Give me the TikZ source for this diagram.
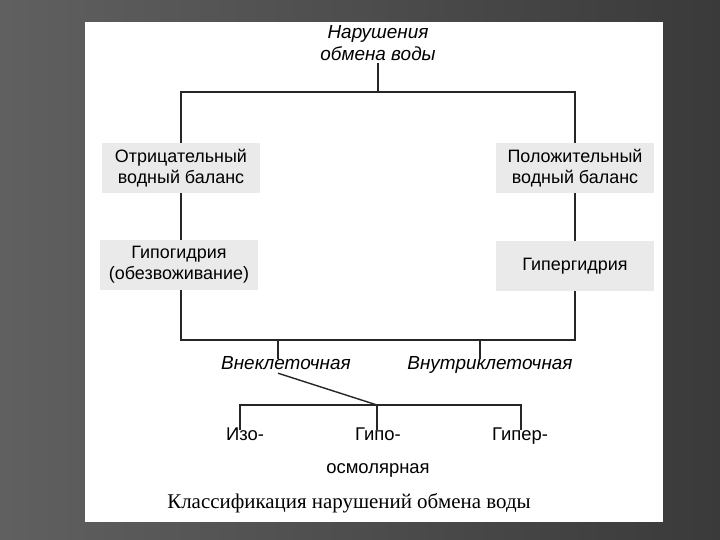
\documentclass[tikz,border=0pt]{standalone}
\usepackage{fontspec}
\setmainfont{Liberation Serif}
\setsansfont{Liberation Sans}
\usepackage{tikz}
\usetikzlibrary{positioning,calc}
\definecolor{slidedark}{RGB}{58,58,58}
\definecolor{slidelight}{RGB}{96,96,96}
\definecolor{boxgray}{RGB}{234,234,234}
\tikzset{
  linkline/.style={line width=1.4bp, black!85},
  balbox/.style={rectangle, fill=boxgray, minimum width=158bp, minimum height=50bp,
                 inner sep=0pt, align=center, font=\sffamily\fontsize{18}{21}\selectfont},
  rootlabel/.style={font=\sffamily\itshape\fontsize{19}{22}\selectfont, align=center,
                    inner sep=2bp},
  kindlabel/.style={font=\sffamily\itshape\fontsize{19}{22}\selectfont,
                    text height=0.72em, text depth=0.22em},
  osmlabel/.style={font=\sffamily\fontsize{18.5}{20}\selectfont,
                   text height=0.72em, text depth=0.22em},
  captlabel/.style={font=\rmfamily\fontsize{21}{24}\selectfont},
}

\begin{document}
\begin{tikzpicture}[x=1bp,y=-1bp]
  \useasboundingbox (0,0) rectangle (720,540);
  % Slide and sheet
  \shade[left color=slidelight, right color=slidedark] (0,0) rectangle (720,540);
  \fill[white] (85,22) rectangle (663,522);
  % Root
  \node[rootlabel] (root) at (378,43) {Нарушения\\обмена воды};
  \coordinate (top) at (378,92);
  \coordinate (topL) at (181,92);
  \coordinate (topR) at (575,92);
  % Balance boxes
  \node[balbox] (neg) at (181,168) {Отрицательный\\водный баланс};
  \node[balbox] (pos) at (575,168) {Положительный\\водный баланс};
  \node[balbox] (hypo) at (179,265) {Гипогидрия\\(обезвоживание)};
  \node[balbox] (hyper) at (575,266) {Гипергидрия};
  \coordinate (botL) at (181,340);
  \coordinate (botR) at (575,340);
  % Sectors
  \coordinate (extTop) at (278,340);
  \coordinate (intTop) at (480,340);
  \node[kindlabel] (ext) at (286,367) {Внеклеточная};
  \node[kindlabel] (int) at (490,367) {Внутриклеточная};
  % Osmolarity
  \coordinate (osmJ) at (377,405);
  \coordinate (osmL) at (240,405);
  \coordinate (osmR) at (521,405);
  \node[osmlabel] (iso) at (245,438) {Изо-};
  \node[osmlabel] (hypoO) at (378,438) {Гипо-};
  \node[osmlabel] (hyperO) at (520,438) {Гипер-};
  \node[osmlabel] (osm) at (378,471) {осмолярная};
  \node[captlabel] (capt) at (349,503) {Классификация нарушений обмена воды};
  % Links
  \draw[linkline] (top |- root.south) -- (top);
  \draw[linkline] (neg.north) -- (topL) -- (topR) -- (pos.north);
  \draw[linkline] (neg.south) -- (neg.south |- hypo.north);
  \draw[linkline] (pos.south) -- (hyper.north);
  \draw[linkline] (botL |- hypo.south) -- (botL) -- (botR) -- (hyper.south);
  \draw[linkline] (extTop) -- (extTop |- ext.north);
  \draw[linkline] (intTop) -- (intTop |- int.north);
  \draw[linkline] ($(ext.south)+(-8,-2)$) -- (osmJ);
  \draw[linkline] (osmL |- iso.north) -- (osmL) -- (osmR) -- (osmR |- hyperO.north);
  \draw[linkline] (osmJ) -- (osmJ |- hypoO.north);
\end{tikzpicture}
\end{document}
